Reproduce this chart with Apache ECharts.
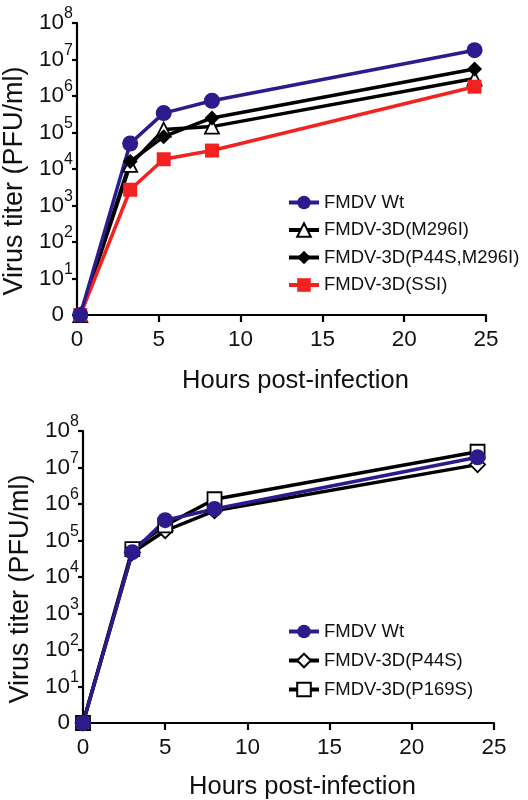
<!DOCTYPE html>
<html>
<head>
<meta charset="utf-8">
<script src="https://cdn.jsdelivr.net/npm/echarts@6/dist/echarts.min.js"></script>
<style>
  html, body { margin: 0; padding: 0; background: #fff; }
  #chart { width: 528px; height: 800px; }
</style>
</head>
<body>
<div id="chart"></div>
<script>
// top panel (hours are slightly offset in the original figure)
const hoursA = [0.2, 3.25, 5.3, 8.25, 24.3];
const wtA = [1, 5.0e4, 3.4e5, 7.4e5, 1.8e7];
const m296iA = [1, 1.3e4, 1.2e5, 1.45e5, 3.0e6];
const p44sM296iA = [1, 1.6e4, 7.7e4, 2.5e5, 5.5e6];
const ssiA = [1, 2.7e3, 1.85e4, 3.2e4, 1.8e6];

// bottom panel
const hoursB = [0, 3, 5, 8, 24];
const wtB = [1, 4.8e4, 3.6e5, 7.3e5, 1.9e7];
const p44sB = [1, 4.7e4, 1.85e5, 6.5e5, 1.2e7];
const p169sB = [1, 5.8e4, 2.6e5, 1.35e6, 2.7e7];

const xTicks = [0, 5, 10, 15, 20, 25];

const BLUE = "#2b1b8c";
const RED = "#f42121";
const BLACK = "#000";
const FONT = "Liberation Sans, Arial, sans-serif";

function pairs(xs, ys) {
  return xs.map((x, i) => [x, ys[i]]);
}

function yLabel(v) {
  const e = Math.round(Math.log10(v));
  if (e === 0) return "{z|0}";
  return "{b|10}{s|" + e + "}";
}

function xAxisOf(gridIndex, nameGap) {
  return {
    type: "value",
    gridIndex: gridIndex,
    min: xTicks[0],
    max: xTicks[xTicks.length - 1],
    interval: 5,
    name: "Hours post-infection",
    nameLocation: "middle",
    nameGap: nameGap,
    nameTextStyle: { fontSize: 25.5, color: "#111", fontFamily: FONT, padding: [0, 0, 0, 28] },
    axisLine: { lineStyle: { color: BLACK, width: 2.2 } },
    axisTick: { length: 7, lineStyle: { width: 2.2, color: BLACK } },
    axisLabel: { fontSize: 22.5, color: "#111", fontFamily: FONT, margin: 13 },
    splitLine: { show: false },
  };
}

function yAxisOf(gridIndex) {
  return {
    type: "log",
    logBase: 10,
    gridIndex: gridIndex,
    min: 1,
    max: 1e8,
    // trailing spacer pushes the rotated title a little down, as in the figure
    name: "{n|Virus titer (PFU/ml)}{g| }",
    nameLocation: "middle",
    nameGap: 47,
    nameRotate: 90,
    nameTextStyle: {
      fontSize: 27, color: "#111", fontFamily: FONT,
      rich: {
        n: { fontSize: 27, color: "#111", fontFamily: FONT },
        g: { width: 24, fontSize: 27 },
      },
    },
    axisLine: { show: true, lineStyle: { color: BLACK, width: 2.2 } },
    axisTick: { show: true, length: 5, lineStyle: { width: 2.2, color: BLACK } },
    minorTick: { show: false },
    splitLine: { show: false },
    axisLabel: {
      margin: 4,
      color: "#111",
      fontFamily: FONT,
      showMinLabel: true,
      showMaxLabel: true,
      hideOverlap: false,
      formatter: yLabel,
      rich: {
        b: { fontSize: 22.5, lineHeight: 34, fontFamily: FONT, color: "#111" },
        s: { fontSize: 16, lineHeight: 16, fontFamily: FONT, color: "#111", padding: [0, 0, 18, 0] },
        z: { fontSize: 22.5, fontFamily: FONT, color: "#111", padding: [0, 9, 0, 0] },
      },
    },
  };
}

function lineSeries(name, xi, data, color, symbol, size, fill) {
  return {
    name: name,
    type: "line",
    xAxisIndex: xi,
    yAxisIndex: xi,
    data: data,
    symbol: symbol,
    symbolSize: size,
    showAllSymbol: true,
    lineStyle: { color: color, width: 3.5 },
    itemStyle: { color: fill, borderColor: color, borderWidth: fill === "#fff" ? 1.8 : 0 },
    emphasis: { disabled: true },
    animation: false,
  };
}

const chart = echarts.init(document.getElementById("chart"));

const legendBase = {
  orient: "vertical",
  left: 282,
  itemWidth: 30,
  itemHeight: 17,
  textStyle: { fontSize: 18.5, color: "#111", fontFamily: FONT },
  lineStyle: { width: 4 },
};

chart.setOption({
  backgroundColor: "#fff",
  textStyle: { fontFamily: FONT },
  grid: [
    { left: 77, right: 42, top: 23, bottom: 485, outerBoundsMode: "none", containLabel: false },
    { left: 83, right: 34, top: 431, bottom: 77, outerBoundsMode: "none", containLabel: false },
  ],
  xAxis: [xAxisOf(0, 53), xAxisOf(1, 51)],
  yAxis: [yAxisOf(0), yAxisOf(1)],
  legend: [
    Object.assign({}, legendBase, {
      top: 188,
      itemGap: 8.5,
      data: ["FMDV Wt", "FMDV-3D(M296I)", "FMDV-3D(P44S,M296I)", "FMDV-3D(SSI)"],
    }),
    Object.assign({}, legendBase, {
      top: 617,
      itemGap: 10,
      data: ["FMDV Wt", "FMDV-3D(P44S)", "FMDV-3D(P169S)"],
    }),
  ],
  series: [
    lineSeries("FMDV-3D(M296I)", 0, pairs(hoursA, m296iA), BLACK, "triangle", 14, "#fff"),
    lineSeries("FMDV-3D(P44S,M296I)", 0, pairs(hoursA, p44sM296iA), BLACK, "diamond", 15, BLACK),
    lineSeries("FMDV-3D(SSI)", 0, pairs(hoursA, ssiA), RED, "rect", 14, RED),
    lineSeries("FMDV Wt", 0, pairs(hoursA, wtA), BLUE, "circle", 16, BLUE),
    lineSeries("FMDV-3D(P44S)", 1, pairs(hoursB, p44sB), BLACK, "diamond", 15, "#fff"),
    lineSeries("FMDV-3D(P169S)", 1, pairs(hoursB, p169sB), BLACK, "rect", 14, "#fff"),
    lineSeries("FMDV Wt", 1, pairs(hoursB, wtB), BLUE, "circle", 16, BLUE),
  ],
});
</script>
</body>
</html>
